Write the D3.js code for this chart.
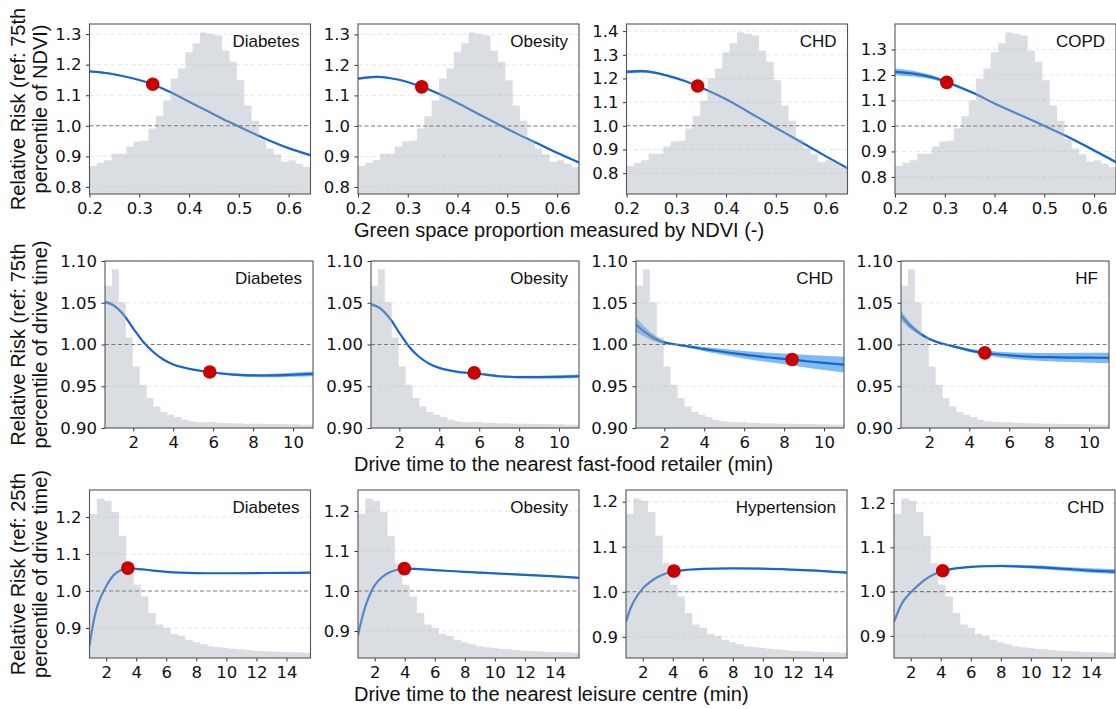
<!DOCTYPE html>
<html>
<head>
<meta charset="utf-8">
<script src="https://cdn.jsdelivr.net/npm/d3@7"></script>
<style>
  body { margin: 0; background: #fff; }
</style>
</head>
<body>
<svg id="chart" width="1116" height="709"></svg>
<script>
// ---------------- data ----------------
const ndviNames = ["Diabetes", "Obesity", "CHD", "COPD"];
const fastFoodNames = ["Diabetes", "Obesity", "CHD", "HF"];
const leisureNames = ["Diabetes", "Obesity", "Hypertension", "CHD"];

// row 1: NDVI
const ndviX = [0.2, 0.24, 0.28, 0.32, 0.36, 0.40, 0.44, 0.48, 0.52, 0.56, 0.60, 0.644];
const ndviDiabetes = [1.178, 1.171, 1.158, 1.140, 1.112, 1.079, 1.046, 1.013, 0.982, 0.953, 0.927, 0.904];
const ndviObesity = [1.155, 1.161, 1.152, 1.133, 1.107, 1.075, 1.041, 1.007, 0.974, 0.943, 0.912, 0.880];
const ndviCHD = [1.228, 1.230, 1.213, 1.187, 1.152, 1.112, 1.065, 1.016, 0.968, 0.920, 0.872, 0.821];
const ndviCOPD = [1.212, 1.204, 1.188, 1.160, 1.127, 1.088, 1.053, 1.018, 0.982, 0.945, 0.904, 0.858];
const ndviDiabetesCI = [0.003, 0.003, 0.002, 0.002, 0.002, 0.001, 0.001, 0.001, 0.001, 0.002, 0.002, 0.003];
const ndviObesityCI = [0.004, 0.003, 0.002, 0.002, 0.001, 0.001, 0.001, 0.001, 0.002, 0.002, 0.003, 0.003];
const ndviCHDCI = [0.007, 0.006, 0.004, 0.003, 0.002, 0.001, 0.001, 0.001, 0.002, 0.002, 0.003, 0.004];
const ndviCOPDCI = [0.013, 0.011, 0.008, 0.006, 0.004, 0.003, 0.002, 0.002, 0.002, 0.003, 0.004, 0.006];
const ndviRefX = [0.327, 0.328, 0.343, 0.304];
const ndviRefRR = [1.136, 1.128, 1.168, 1.171];
const ndviHist = [83, 93, 100, 120, 120, 141, 156, 158, 195, 231, 278, 343, 373, 421, 448,
                  480, 476, 471, 426, 393, 338, 263, 218, 163, 135, 118, 96, 100, 90, 80];

// row 2: drive time to fast-food retailer
const ffX = [0.58, 1.0, 1.5, 2.0, 2.5, 3.0, 3.5, 4.0, 5.0, 6.0, 7.0, 8.0, 9.0, 10.0, 11.0];
const ffDiabetes = [1.051, 1.047, 1.036, 1.019, 1.003, 0.991, 0.982, 0.976, 0.970, 0.9665, 0.964, 0.963, 0.963, 0.9638, 0.9648];
const ffObesity = [1.048, 1.044, 1.032, 1.014, 0.997, 0.985, 0.977, 0.972, 0.967, 0.965, 0.962, 0.961, 0.961, 0.9613, 0.962];
const ffCHD = [1.024, 1.0155, 1.0075, 1.0025, 1.0003, 0.9985, 0.9965, 0.9945, 0.991, 0.9878, 0.985, 0.9828, 0.9803, 0.978, 0.976];
const ffHF = [1.035, 1.0235, 1.0138, 1.0065, 1.002, 0.999, 0.996, 0.993, 0.9892, 0.987, 0.9855, 0.9848, 0.9844, 0.9842, 0.984];
const ffDiabetesCI = [0.002, 0.0018, 0.0012, 0.0008, 0.0005, 0.0005, 0.0006, 0.0007, 0.0009, 0.0012, 0.0015, 0.0018, 0.0021, 0.0024, 0.0028];
const ffObesityCI = [0.002, 0.0017, 0.0012, 0.0008, 0.0005, 0.0005, 0.0006, 0.0007, 0.0009, 0.0011, 0.0013, 0.0015, 0.0017, 0.0019, 0.0021];
const ffCHDCI = [0.009, 0.006, 0.004, 0.002, 0.001, 0.0012, 0.002, 0.0025, 0.0035, 0.0045, 0.0055, 0.0065, 0.0075, 0.0085, 0.0095];
const ffHFCI = [0.006, 0.004, 0.0025, 0.0015, 0.001, 0.001, 0.0015, 0.002, 0.003, 0.0038, 0.0045, 0.005, 0.0055, 0.006, 0.0062];
const ffRefX = [5.83, 5.75, 8.4, 4.78];
const ffRefRR = [0.967, 0.966, 0.982, 0.990];
const ffHist = [428, 477, 378, 273, 185, 130, 90, 65, 48, 40, 33, 25, 20, 18, 17,
                18, 16, 15, 14, 14, 13, 13, 13, 12, 12, 12, 11, 11, 10, 10];

// row 3: drive time to leisure centre
const lcX = [0.89, 1.2, 1.5, 2.0, 2.5, 3.0, 3.5, 4.0, 5.0, 6.0, 8.0, 10.0, 12.0, 14.0, 15.6];
const lcDiabetes = [0.852, 0.925, 0.970, 1.013, 1.043, 1.057, 1.061, 1.060, 1.056, 1.052, 1.0485, 1.048, 1.0485, 1.049, 1.0495];
const lcObesity = [0.889, 0.938, 0.974, 1.014, 1.035, 1.047, 1.053, 1.056, 1.0545, 1.052, 1.048, 1.044, 1.0405, 1.0365, 1.033];
const lcHypertension = [0.933, 0.964, 0.984, 1.007, 1.022, 1.033, 1.040, 1.045, 1.049, 1.051, 1.052, 1.0513, 1.049, 1.046, 1.0425];
const lcCHD = [0.932, 0.958, 0.978, 0.998, 1.014, 1.028, 1.038, 1.0455, 1.0525, 1.056, 1.0578, 1.0558, 1.052, 1.0475, 1.045];
const lcDiabetesCI = [0.004, 0.003, 0.002, 0.0015, 0.001, 0.001, 0.001, 0.001, 0.001, 0.0012, 0.0015, 0.0017, 0.002, 0.0022, 0.0025];
const lcObesityCI = [0.005, 0.004, 0.003, 0.002, 0.0015, 0.001, 0.001, 0.001, 0.001, 0.0012, 0.0015, 0.0018, 0.002, 0.0022, 0.0025];
const lcHypertensionCI = [0.003, 0.0025, 0.002, 0.0015, 0.001, 0.001, 0.001, 0.001, 0.001, 0.001, 0.0012, 0.0015, 0.0018, 0.002, 0.0022];
const lcCHDCI = [0.005, 0.004, 0.003, 0.002, 0.0015, 0.0012, 0.0012, 0.0012, 0.0015, 0.002, 0.0028, 0.0035, 0.0042, 0.005, 0.0055];
const lcRefX = [3.44, 3.98, 4.08, 4.13];
const lcRefRR = [1.062, 1.056, 1.046, 1.047];
const lcHist = [433, 480, 473, 439, 368, 285, 220, 185, 135, 101, 91, 72, 67, 55, 47,
                41, 35, 32, 30, 28, 26, 24, 22, 21, 20, 19, 18, 17, 17, 16];

// tick labels
const ndviXTicks = [0.2, 0.3, 0.4, 0.5, 0.6];
const ffXTicks = [2, 4, 6, 8, 10];
const lcXTicks = [2, 4, 6, 8, 10, 12, 14];
const ndviYTicks = [[0.8, 0.9, 1.0, 1.1, 1.2, 1.3], [0.8, 0.9, 1.0, 1.1, 1.2, 1.3],
                    [0.8, 0.9, 1.0, 1.1, 1.2, 1.3, 1.4], [0.8, 0.9, 1.0, 1.1, 1.2, 1.3]];
const ffYTicks = [0.90, 0.95, 1.00, 1.05, 1.10];
const lcYTicks = [0.9, 1.0, 1.1, 1.2];

const rowXLabels = ["Green space proportion measured by NDVI (-)",
                    "Drive time to the nearest fast-food retailer (min)",
                    "Drive time to the nearest leisure centre (min)"];
const rowYLabels = [["Relative Risk (ref: 75th", "percentile of NDVI)"],
                    ["Relative Risk (ref: 75th", "percentile of drive time)"],
                    ["Relative Risk (ref: 25th", "percentile of drive time)"]];

// ---------------- layout ----------------
const rows = [
  { top: 24, bottom: 194, lefts: [89.5, 358, 626.5, 895], width: 221, xDomain: [0.2, 0.644],
    yDomains: [[0.777, 1.333], [0.777, 1.334], [0.712, 1.43], [0.733, 1.40]], yFmt: ".1f",
    x: ndviX, names: ndviNames, ys: [ndviDiabetes, ndviObesity, ndviCHD, ndviCOPD],
    cis: [ndviDiabetesCI, ndviObesityCI, ndviCHDCI, ndviCOPDCI],
    refX: ndviRefX, refRR: ndviRefRR, hist: ndviHist, xTicks: ndviXTicks, xFmt: ".1f",
    yTicks: ndviYTicks },
  { top: 261, bottom: 428, lefts: [105, 371, 636, 901], width: 208, xDomain: [0.58, 11.0],
    yDomains: [[0.9, 1.1], [0.9, 1.1], [0.9, 1.1], [0.9, 1.1]], yFmt: ".2f",
    x: ffX, names: fastFoodNames, ys: [ffDiabetes, ffObesity, ffCHD, ffHF],
    cis: [ffDiabetesCI, ffObesityCI, ffCHDCI, ffHFCI],
    refX: ffRefX, refRR: ffRefRR, hist: ffHist, xTicks: ffXTicks, xFmt: "d",
    yTicks: [ffYTicks, ffYTicks, ffYTicks, ffYTicks] },
  { top: 490, bottom: 658, lefts: [89.5, 358, 626, 894], width: 221, xDomain: [0.89, 15.6],
    yDomains: [[0.819, 1.273], [0.8325, 1.2525], [0.853, 1.226], [0.850, 1.2295]], yFmt: ".1f",
    x: lcX, names: leisureNames, ys: [lcDiabetes, lcObesity, lcHypertension, lcCHD],
    cis: [lcDiabetesCI, lcObesityCI, lcHypertensionCI, lcCHDCI],
    refX: lcRefX, refRR: lcRefRR, hist: lcHist, xTicks: lcXTicks, xFmt: "d",
    yTicks: [lcYTicks, lcYTicks, lcYTicks, lcYTicks] }
];

const svg = d3.select("#chart");
const tickFont = "'DejaVu Sans', sans-serif";
const textFont = "'Liberation Sans', Arial, sans-serif";
const lineColor = "#1866cb";
const smooth = d3.curveCatmullRom.alpha(0.5);

rows.forEach(function(row, ri) {
  row.lefts.forEach(function(left, pi) {
    drawPanel(row, ri, pi, left);
  });

  // shared x label, left aligned like the original
  svg.append("text")
    .attr("x", 354)
    .attr("y", row.bottom + 43)
    .style("font-family", textFont)
    .style("font-size", "20px")
    .style("fill", "#111")
    .text(rowXLabels[ri]);

  // two-line y label
  const cy = (row.top + row.bottom) / 2;
  rowYLabels[ri].forEach(function(t, li) {
    svg.append("text")
      .attr("transform", "translate(" + (25 + li * 22) + "," + cy + ") rotate(-90)")
      .attr("text-anchor", "middle")
      .style("font-family", textFont)
      .style("font-size", "20px")
      .style("fill", "#111")
      .text(t);
  });
});

function drawPanel(row, ri, pi, left) {
  const w = row.width, top = row.top, bottom = row.bottom;
  const x = d3.scaleLinear().domain(row.xDomain).range([left, left + w]);
  const y = d3.scaleLinear().domain(row.yDomains[pi]).range([bottom, top]);
  const hy = d3.scaleLinear().domain([0, d3.max(row.hist) / 0.95]).range([bottom, top]);

  const g = svg.append("g");
  const clipId = "clip" + ri + "_" + pi;
  g.append("clipPath").attr("id", clipId)
    .append("rect").attr("x", left).attr("y", top).attr("width", w).attr("height", bottom - top);
  const inner = g.append("g").attr("clip-path", "url(#" + clipId + ")");

  // light grid
  inner.selectAll("line.grid")
    .data(row.yTicks[pi].filter(function(v) { return Math.abs(v - 1) > 1e-9; }))
    .enter().append("line")
    .attr("class", "grid")
    .attr("x1", left).attr("x2", left + w)
    .attr("y1", function(d) { return y(d); })
    .attr("y2", function(d) { return y(d); })
    .attr("stroke", "#e0e0e0")
    .attr("stroke-width", 0.8)
    .attr("stroke-dasharray", "4,3");

  const pts = row.x.map(function(v, i) {
    return { x: v, y: row.ys[pi][i], ci: row.cis[pi][i] };
  });

  // confidence band
  inner.append("path")
    .datum(pts)
    .attr("d", d3.area()
      .curve(smooth)
      .x(function(d) { return x(d.x); })
      .y0(function(d) { return y(d.y - d.ci); })
      .y1(function(d) { return y(d.y + d.ci); }))
    .attr("fill", "#3b97ec")
    .attr("fill-opacity", 0.65);

  // RR curve
  inner.append("path")
    .datum(pts)
    .attr("d", d3.line()
      .curve(smooth)
      .x(function(d) { return x(d.x); })
      .y(function(d) { return y(d.y); }))
    .attr("fill", "none")
    .attr("stroke", lineColor)
    .attr("stroke-width", 2.2);

  // exposure histogram (30 equal bins over the x range), drawn over the curve
  const nb = row.hist.length;
  const step = (row.xDomain[1] - row.xDomain[0]) / nb;
  const bins = row.hist.map(function(c, i) { return { x0: row.xDomain[0] + i * step, c: c }; });
  bins.push({ x0: row.xDomain[1], c: row.hist[nb - 1] });
  inner.append("path")
    .datum(bins)
    .attr("d", d3.area()
      .curve(d3.curveStepAfter)
      .x(function(d) { return x(d.x0); })
      .y0(bottom)
      .y1(function(d) { return hy(d.c); }))
    .attr("fill", "#a9b3bd")
    .attr("fill-opacity", 0.43);

  // reference line at RR = 1
  inner.append("line")
    .attr("x1", left).attr("x2", left + w)
    .attr("y1", y(1)).attr("y2", y(1))
    .attr("stroke", "#7a7a7a")
    .attr("stroke-width", 1.1)
    .attr("stroke-dasharray", "4,2.5");

  // axes
  const yAxis = d3.axisLeft(y).tickValues(row.yTicks[pi]).tickFormat(d3.format(row.yFmt))
    .tickSize(3.5).tickPadding(4.5);
  const xAxis = d3.axisBottom(x).tickValues(row.xTicks).tickFormat(d3.format(row.xFmt))
    .tickSize(3.5).tickPadding(5);
  const ya = g.append("g").attr("transform", "translate(" + left + ",0)").call(yAxis);
  const xa = g.append("g").attr("transform", "translate(0," + bottom + ")").call(xAxis);
  [ya, xa].forEach(function(a) {
    a.select(".domain").remove();
    a.selectAll(".tick line").attr("stroke", "#333");
    a.selectAll(".tick text")
      .style("font-family", tickFont)
      .style("font-size", "16.5px")
      .attr("fill", "#111");
  });

  // frame
  g.append("rect")
    .attr("x", left).attr("y", top)
    .attr("width", w).attr("height", bottom - top)
    .attr("fill", "none")
    .attr("stroke", "#555")
    .attr("stroke-width", 1.1);

  // reference point
  g.append("circle")
    .attr("cx", x(row.refX[pi]))
    .attr("cy", y(row.refRR[pi]))
    .attr("r", 6.8)
    .attr("fill", "#c80000");

  // outcome title
  g.append("text")
    .attr("x", left + w - 11)
    .attr("y", top + 23)
    .attr("text-anchor", "end")
    .style("font-family", textFont)
    .style("font-size", "17px")
    .style("fill", "#111")
    .text(row.names[pi]);
}
</script>
</body>
</html>
